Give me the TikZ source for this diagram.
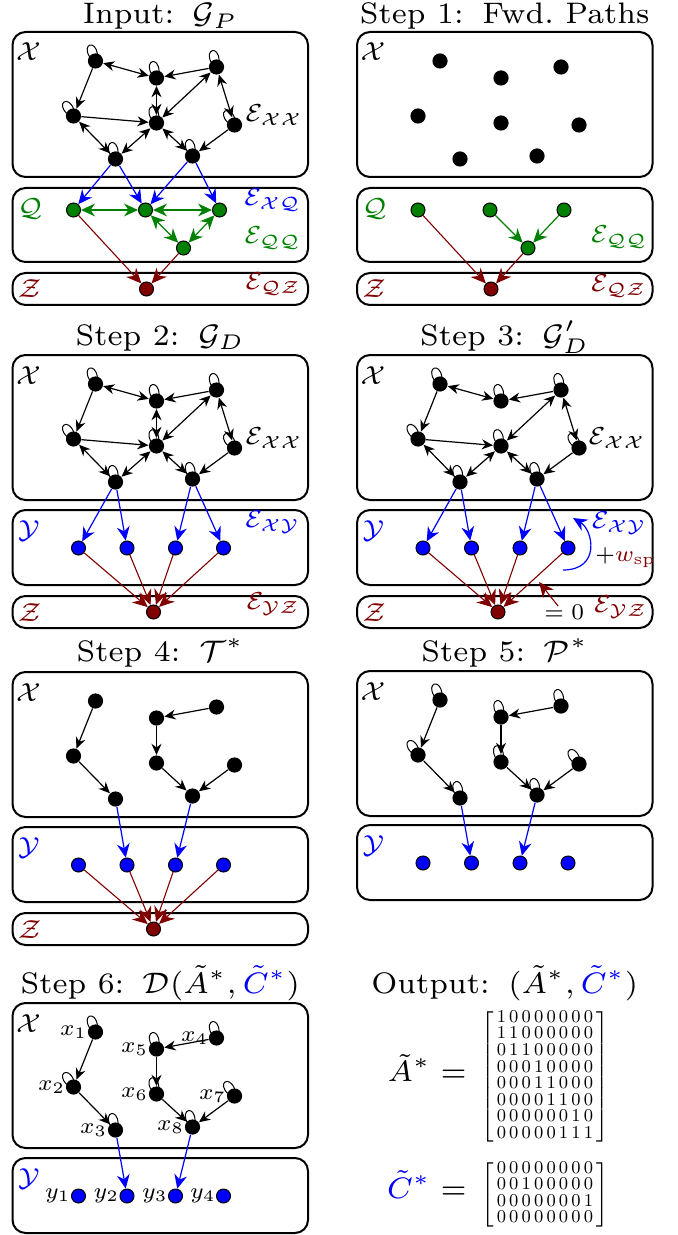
\documentclass[tikz,border=0pt]{standalone}
\usepackage{amsmath}
\usepackage{graphicx}
\usetikzlibrary{arrows.meta,calc}

\definecolor{qgreen}{RGB}{0,128,0}
\definecolor{zred}{RGB}{128,0,0}
\definecolor{yblue}{RGB}{0,0,255}

% text helpers: small design size, scaled up
\newcommand\ttl[1]{\scalebox{2.12}{\fontsize{7}{8.4}\selectfont #1}}
\newcommand\lbl[1]{\scalebox{1.86}{\fontsize{7}{8.4}\selectfont #1}}
\newcommand\elb[1]{\scalebox{1.76}{\fontsize{7}{8.4}\selectfont #1}}
\newcommand\sml[1]{\scalebox{1.6}{\fontsize{7}{8.4}\selectfont #1}}
\newcommand\csp{\hspace{4.4pt}}
\newcommand\mtx[1]{{\fontsize{9}{8.25}\selectfont\setlength\arraycolsep{0.8pt}$\left[\begin{array}{@{\,}*{8}{c}@{\,}}#1\end{array}\right]$}}

\tikzset{
  panel/.style={draw=black, line width=1pt, rounded corners=6.5pt},
  xn/.style={circle, fill=black, inner sep=0pt, minimum size=7.6pt},
  cn/.style={circle, draw=black, line width=0.5pt, inner sep=0pt, minimum size=7pt},
  qn/.style={cn, fill=qgreen},
  yn/.style={cn, fill=yblue},
  zn/.style={cn, fill=zred},
  xa/.style={line width=0.6pt, -{Stealth[length=5.6pt,width=5pt]}},
  xb/.style={line width=0.6pt, {Stealth[length=5.6pt,width=5pt]}-{Stealth[length=5.6pt,width=5pt]}},
  sl/.style={line width=0.5pt},
  ba/.style={yblue, line width=0.6pt, -{Stealth[length=7pt,width=6.4pt]}},
  ga/.style={qgreen, line width=0.6pt, -{Stealth[length=7pt,width=6.4pt]}},
  gb/.style={qgreen, line width=0.6pt, {Stealth[length=7pt,width=6.4pt]}-{Stealth[length=7pt,width=6.4pt]}},
  ra/.style={zred, line width=0.55pt, -{Stealth[length=7.6pt,width=6.8pt]}},
  lab/.style={inner sep=0pt},
}

% self loop on node #1 pointing at angle #2
\newcommand\lp[2]{\draw[sl] ([shift={({#2+35}:3.6pt)}]#1.center) .. controls +({#2+12}:7.5pt) and +({#2-12}:7.5pt) .. ([shift={({#2-35}:3.6pt)}]#1.center);}

\newcommand\xnodes[1]{%
  \node[xn] (#1p1) at (83,29) {};
  \node[xn] (#1p2) at (144,46) {};
  \node[xn] (#1p3) at (204,35) {};
  \node[xn] (#1p4) at (61,84) {};
  \node[xn] (#1p5) at (144,91) {};
  \node[xn] (#1p6) at (222,93) {};
  \node[xn] (#1p7) at (103,127) {};
  \node[xn] (#1p8) at (180,124) {};
}
\newcommand\xloops[1]{\lp{#1p1}{110}\lp{#1p2}{104}\lp{#1p3}{104}\lp{#1p4}{124}\lp{#1p5}{106}\lp{#1p6}{124}\lp{#1p7}{104}\lp{#1p8}{104}}
\newcommand\xfull[1]{%
  \draw[xb] (#1p1) -- (#1p2);
  \draw[xa] (#1p3) -- (#1p2);
  \draw[xa] (#1p1) -- (#1p4);
  \draw[xa] (#1p4) -- (#1p5);
  \draw[xb] (#1p3) -- (#1p5);
  \draw[xb] (#1p3) -- (#1p6);
  \draw[xb] (#1p4) -- (#1p7);
  \draw[xb] (#1p5) -- (#1p7);
  \draw[xb] (#1p5) -- (#1p8);
  \draw[xa] (#1p6) -- (#1p8);
}
\newcommand\xtree[1]{%
  \draw[xa] (#1p1) -- (#1p4);
  \draw[xa] (#1p4) -- (#1p7);
  \draw[xa] (#1p3) -- (#1p2);
  \draw[xa] (#1p2) -- (#1p5);
  \draw[xa] (#1p5) -- (#1p8);
  \draw[xa] (#1p6) -- (#1p8);
}
\newcommand\ynodes[1]{%
  \node[yn] (#1y1) at (66,38) {};
  \node[yn] (#1y2) at (114.5,38) {};
  \node[yn] (#1y3) at (163,38) {};
  \node[yn] (#1y4) at (211,38) {};
}
\newcommand\xbox[1]{\draw[panel] (0,0) rectangle (295.5,145);
  \node[lab, anchor=base west] (#1xl) at (3,29) {\lbl{$\mathcal{X}$}};}
\newcommand\ybox[1]{\draw[panel] (0,0) rectangle (295.5,75);
  \node[lab, anchor=base west] (#1yl) at (5,28) {\lbl{\color{yblue}$\mathcal{Y}$}};}
\newcommand\zbox[2]{\draw[panel] (0,0) rectangle (295.5,32);
  \node[zn] (#1z) at (#2,16) {};
  \node[lab, anchor=base west] (#1zl) at (5,25) {\lbl{\color{zred}$\mathcal{Z}$}};}

\begin{document}
\begin{tikzpicture}[x=0.5pt, y=-0.5pt]
\useasboundingbox (0,0) rectangle (678,1235);

% ---------------- titles ----------------
\node[lab, anchor=base] (t0) at (160.25,24) {\ttl{Input:\csp$\mathcal{G}_P$}};
\node[lab, anchor=base] (t1) at (504.75,24) {\ttl{Step 1:\csp Fwd.\ Paths}};
\node[lab, anchor=base] (t2) at (160.25,345) {\ttl{Step 2:\csp$\mathcal{G}_D$}};
\node[lab, anchor=base] (t3) at (504.75,345) {\ttl{Step 3:\csp$\mathcal{G}'_D$}};
\node[lab, anchor=base] (t4) at (160.25,661.7) {\ttl{Step 4:\csp$\mathcal{T}^*$}};
\node[lab, anchor=base] (t5) at (504.75,661.7) {\ttl{Step 5:\csp$\mathcal{P}^*$}};
\node[lab, anchor=base] (t6) at (160.25,993) {\ttl{Step 6:\csp$\mathcal{D}(\tilde{A}^*,\textcolor{yblue}{\tilde{C}^*})$}};
\node[lab, anchor=base] (t7) at (504.75,993) {\ttl{Output:\csp$(\tilde{A}^*,\textcolor{yblue}{\tilde{C}^*})$}};

% ---------------- Input ----------------
\begin{scope}[shift={(12.5,32)}]
  \xbox{a}
  \xnodes{a}
  \xloops{a}
  \xfull{a}
  \draw[xb] (ap2) -- (ap5);
  \node[lab, anchor=east] (aexx) at (290.5,83) {\elb{$\mathcal{E}_{\mathcal{X}\mathcal{X}}$}};
\end{scope}
\begin{scope}[shift={(12.5,188)}]
  \draw[panel] (0,0) rectangle (295.5,74);
  \node[lab, anchor=base west] (aql) at (5,29) {\lbl{\color{qgreen}$\mathcal{Q}$}};
  \node[qn] (aq1) at (61,22) {};
  \node[qn] (aq2) at (133,22) {};
  \node[qn] (aq3) at (207,22) {};
  \node[qn] (aq4) at (171,60) {};
  \node[lab, anchor=east] (aexq) at (289,12) {\elb{\color{yblue}$\mathcal{E}_{\mathcal{X}\mathcal{Q}}$}};
  \node[lab, anchor=east] (aeqq) at (289,50) {\elb{\color{qgreen}$\mathcal{E}_{\mathcal{Q}\mathcal{Q}}$}};
\end{scope}
\begin{scope}[shift={(12.5,273)}]
  \zbox{a}{134}
  \node[lab, anchor=east] (aeqz) at (289,11) {\elb{\color{zred}$\mathcal{E}_{\mathcal{Q}\mathcal{Z}}$}};
\end{scope}
\draw[ba] (ap7) -- (aq1);
\draw[ba] (ap7) -- (aq2);
\draw[ba] (ap8) -- (aq2);
\draw[ba] (ap8) -- (aq3);
\draw[gb] (aq1) -- (aq2);
\draw[gb] (aq2) -- (aq3);
\draw[gb] (aq2) -- (aq4);
\draw[gb] (aq3) -- (aq4);
\draw[ra] (aq1) -- (az);
\draw[ra] (aq4) -- (az);

% ---------------- Step 1 ----------------
\begin{scope}[shift={(357,32)}]
  \xbox{b}
  \xnodes{b}
\end{scope}
\begin{scope}[shift={(357,188)}]
  \draw[panel] (0,0) rectangle (295.5,74);
  \node[lab, anchor=base west] (bql) at (5,29) {\lbl{\color{qgreen}$\mathcal{Q}$}};
  \node[qn] (bq1) at (61,22) {};
  \node[qn] (bq2) at (133,22) {};
  \node[qn] (bq3) at (207,22) {};
  \node[qn] (bq4) at (171,60) {};
  \node[lab, anchor=east] (beqq) at (291,49) {\elb{\color{qgreen}$\mathcal{E}_{\mathcal{Q}\mathcal{Q}}$}};
\end{scope}
\begin{scope}[shift={(357,273)}]
  \zbox{b}{134}
  \node[lab, anchor=east] (beqz) at (290,13) {\elb{\color{zred}$\mathcal{E}_{\mathcal{Q}\mathcal{Z}}$}};
\end{scope}
\draw[ga] (bq2) -- (bq4);
\draw[ga] (bq3) -- (bq4);
\draw[ra] (bq1) -- (bz);
\draw[ra] (bq4) -- (bz);

% ---------------- Step 2 ----------------
\begin{scope}[shift={(12.5,355)}]
  \xbox{c}
  \xnodes{c}
  \xloops{c}
  \xfull{c}
  \draw[xb] (cp2) -- (cp5);
  \node[lab, anchor=east] (cexx) at (290.5,83) {\elb{$\mathcal{E}_{\mathcal{X}\mathcal{X}}$}};
\end{scope}
\begin{scope}[shift={(12.5,510)}]
  \ybox{c}
  \ynodes{c}
  \node[lab, anchor=east] (cexy) at (288,12) {\elb{\color{yblue}$\mathcal{E}_{\mathcal{X}\mathcal{Y}}$}};
\end{scope}
\begin{scope}[shift={(12.5,596)}]
  \zbox{c}{141}
  \node[lab, anchor=east] (ceyz) at (288,8) {\elb{\color{zred}$\mathcal{E}_{\mathcal{Y}\mathcal{Z}}$}};
\end{scope}
\draw[ba] (cp7) -- (cy1);
\draw[ba] (cp7) -- (cy2);
\draw[ba] (cp8) -- (cy3);
\draw[ba] (cp8) -- (cy4);
\foreach \i in {1,...,4} \draw[ra] (cy\i) -- (cz);

% ---------------- Step 3 ----------------
\begin{scope}[shift={(357,355)}]
  \xbox{d}
  \xnodes{d}
  \xloops{d}
  \xfull{d}
  \node[lab, anchor=east] (dexx) at (289,83) {\elb{$\mathcal{E}_{\mathcal{X}\mathcal{X}}$}};
\end{scope}
\begin{scope}[shift={(357,510)}]
  \ybox{d}
  \ynodes{d}
  \node[lab, anchor=east] (dexy) at (290,13) {\elb{\color{yblue}$\mathcal{E}_{\mathcal{X}\mathcal{Y}}$}};
\end{scope}
\begin{scope}[shift={(357,596)}]
  \zbox{d}{141}
  \node[lab, anchor=east] (deyz) at (291,11) {\elb{\color{zred}$\mathcal{E}_{\mathcal{Y}\mathcal{Z}}$}};
\end{scope}
\draw[ba] (dp7) -- (dy1);
\draw[ba] (dp7) -- (dy2);
\draw[ba] (dp8) -- (dy3);
\draw[ba] (dp8) -- (dy4);
\foreach \i in {1,...,4} \draw[ra] (dy\i) -- (dz);
% extra weight on the sp edges
\draw[ba] ([shift={(-5,22)}]dy4.center) .. controls +(38,0) and +(20,12) .. ([shift={(5,-30)}]dy4.center);
\node[lab, anchor=west] (dwsp) at (595,558) {\sml{$+\textcolor{zred}{w_{\mathrm{sp}}}$}};
\node[lab, anchor=base west] (dzero) at (544,619) {\sml{$=0$}};
\coordinate (dtip) at ($(dy4)!0.5!(dz)+(6,2)$);
\draw[ra] ([xshift=-3pt,yshift=-1pt]dzero.north) -- (dtip);

% ---------------- Step 4 ----------------
\begin{scope}[shift={(12.5,672)}]
  \xbox{e}
  \xnodes{e}
  \xtree{e}
\end{scope}
\begin{scope}[shift={(12.5,827)}]
  \ybox{e}
  \ynodes{e}
\end{scope}
\begin{scope}[shift={(12.5,913)}]
  \zbox{e}{141}
\end{scope}
\draw[ba] (ep7) -- (ey2);
\draw[ba] (ep8) -- (ey3);
\foreach \i in {1,...,4} \draw[ra] (ey\i) -- (ez);

% ---------------- Step 5 ----------------
\begin{scope}[shift={(357,671)}]
  \xbox{f}
  \xnodes{f}
  \xloops{f}
  \xtree{f}
\end{scope}
\begin{scope}[shift={(357,825)}]
  \ybox{f}
  \ynodes{f}
\end{scope}
\draw[ba] (fp7) -- (fy2);
\draw[ba] (fp8) -- (fy3);

% ---------------- Step 6 ----------------
\begin{scope}[shift={(12.5,1003)}]
  \xbox{g}
  \xnodes{g}
  \xloops{g}
  \xtree{g}
\end{scope}
\begin{scope}[shift={(12.5,1158)}]
  \ybox{g}
  \ynodes{g}
\end{scope}
\draw[ba] (gp7) -- (gy2);
\draw[ba] (gp8) -- (gy3);
\node[lab, anchor=east] (gx1) at (gp1.west) {\sml{$x_1$}};
\node[lab, anchor=east] (gx2) at (gp4.west) {\sml{$x_2$}};
\node[lab, anchor=east] (gx3) at (gp7.west) {\sml{$x_3$}};
\node[lab, anchor=east] (gx4) at (gp3.west) {\sml{$x_4$}};
\node[lab, anchor=east] (gx5) at (gp2.west) {\sml{$x_5$}};
\node[lab, anchor=east] (gx6) at (gp5.west) {\sml{$x_6$}};
\node[lab, anchor=east] (gx7) at (gp6.west) {\sml{$x_7$}};
\node[lab, anchor=east] (gx8) at (gp8.west) {\sml{$x_8$}};
\foreach \i in {1,...,4}
  \node[lab, anchor=east] (gyl\i) at (gy\i.west) {\sml{$y_\i$}};

% ---------------- Output ----------------
\node[lab, anchor=base east] (oal) at (467,1081.7) {\ttl{$\tilde{A}^*=$}};
\node[lab, anchor=west] (oam) at (481,1077) {\mtx{
1&0&0&0&0&0&0&0\\
1&1&0&0&0&0&0&0\\
0&1&1&0&0&0&0&0\\
0&0&0&1&0&0&0&0\\
0&0&0&1&1&0&0&0\\
0&0&0&0&1&1&0&0\\
0&0&0&0&0&0&1&0\\
0&0&0&0&0&1&1&1}};
\node[lab, anchor=base east] (ocl) at (467,1198) {\ttl{$\textcolor{yblue}{\tilde{C}^*}=$}};
\node[lab, anchor=west] (ocm) at (481,1194.7) {\mtx{
0&0&0&0&0&0&0&0\\
0&0&1&0&0&0&0&0\\
0&0&0&0&0&0&0&1\\
0&0&0&0&0&0&0&0}};
\end{tikzpicture}
\end{document}
